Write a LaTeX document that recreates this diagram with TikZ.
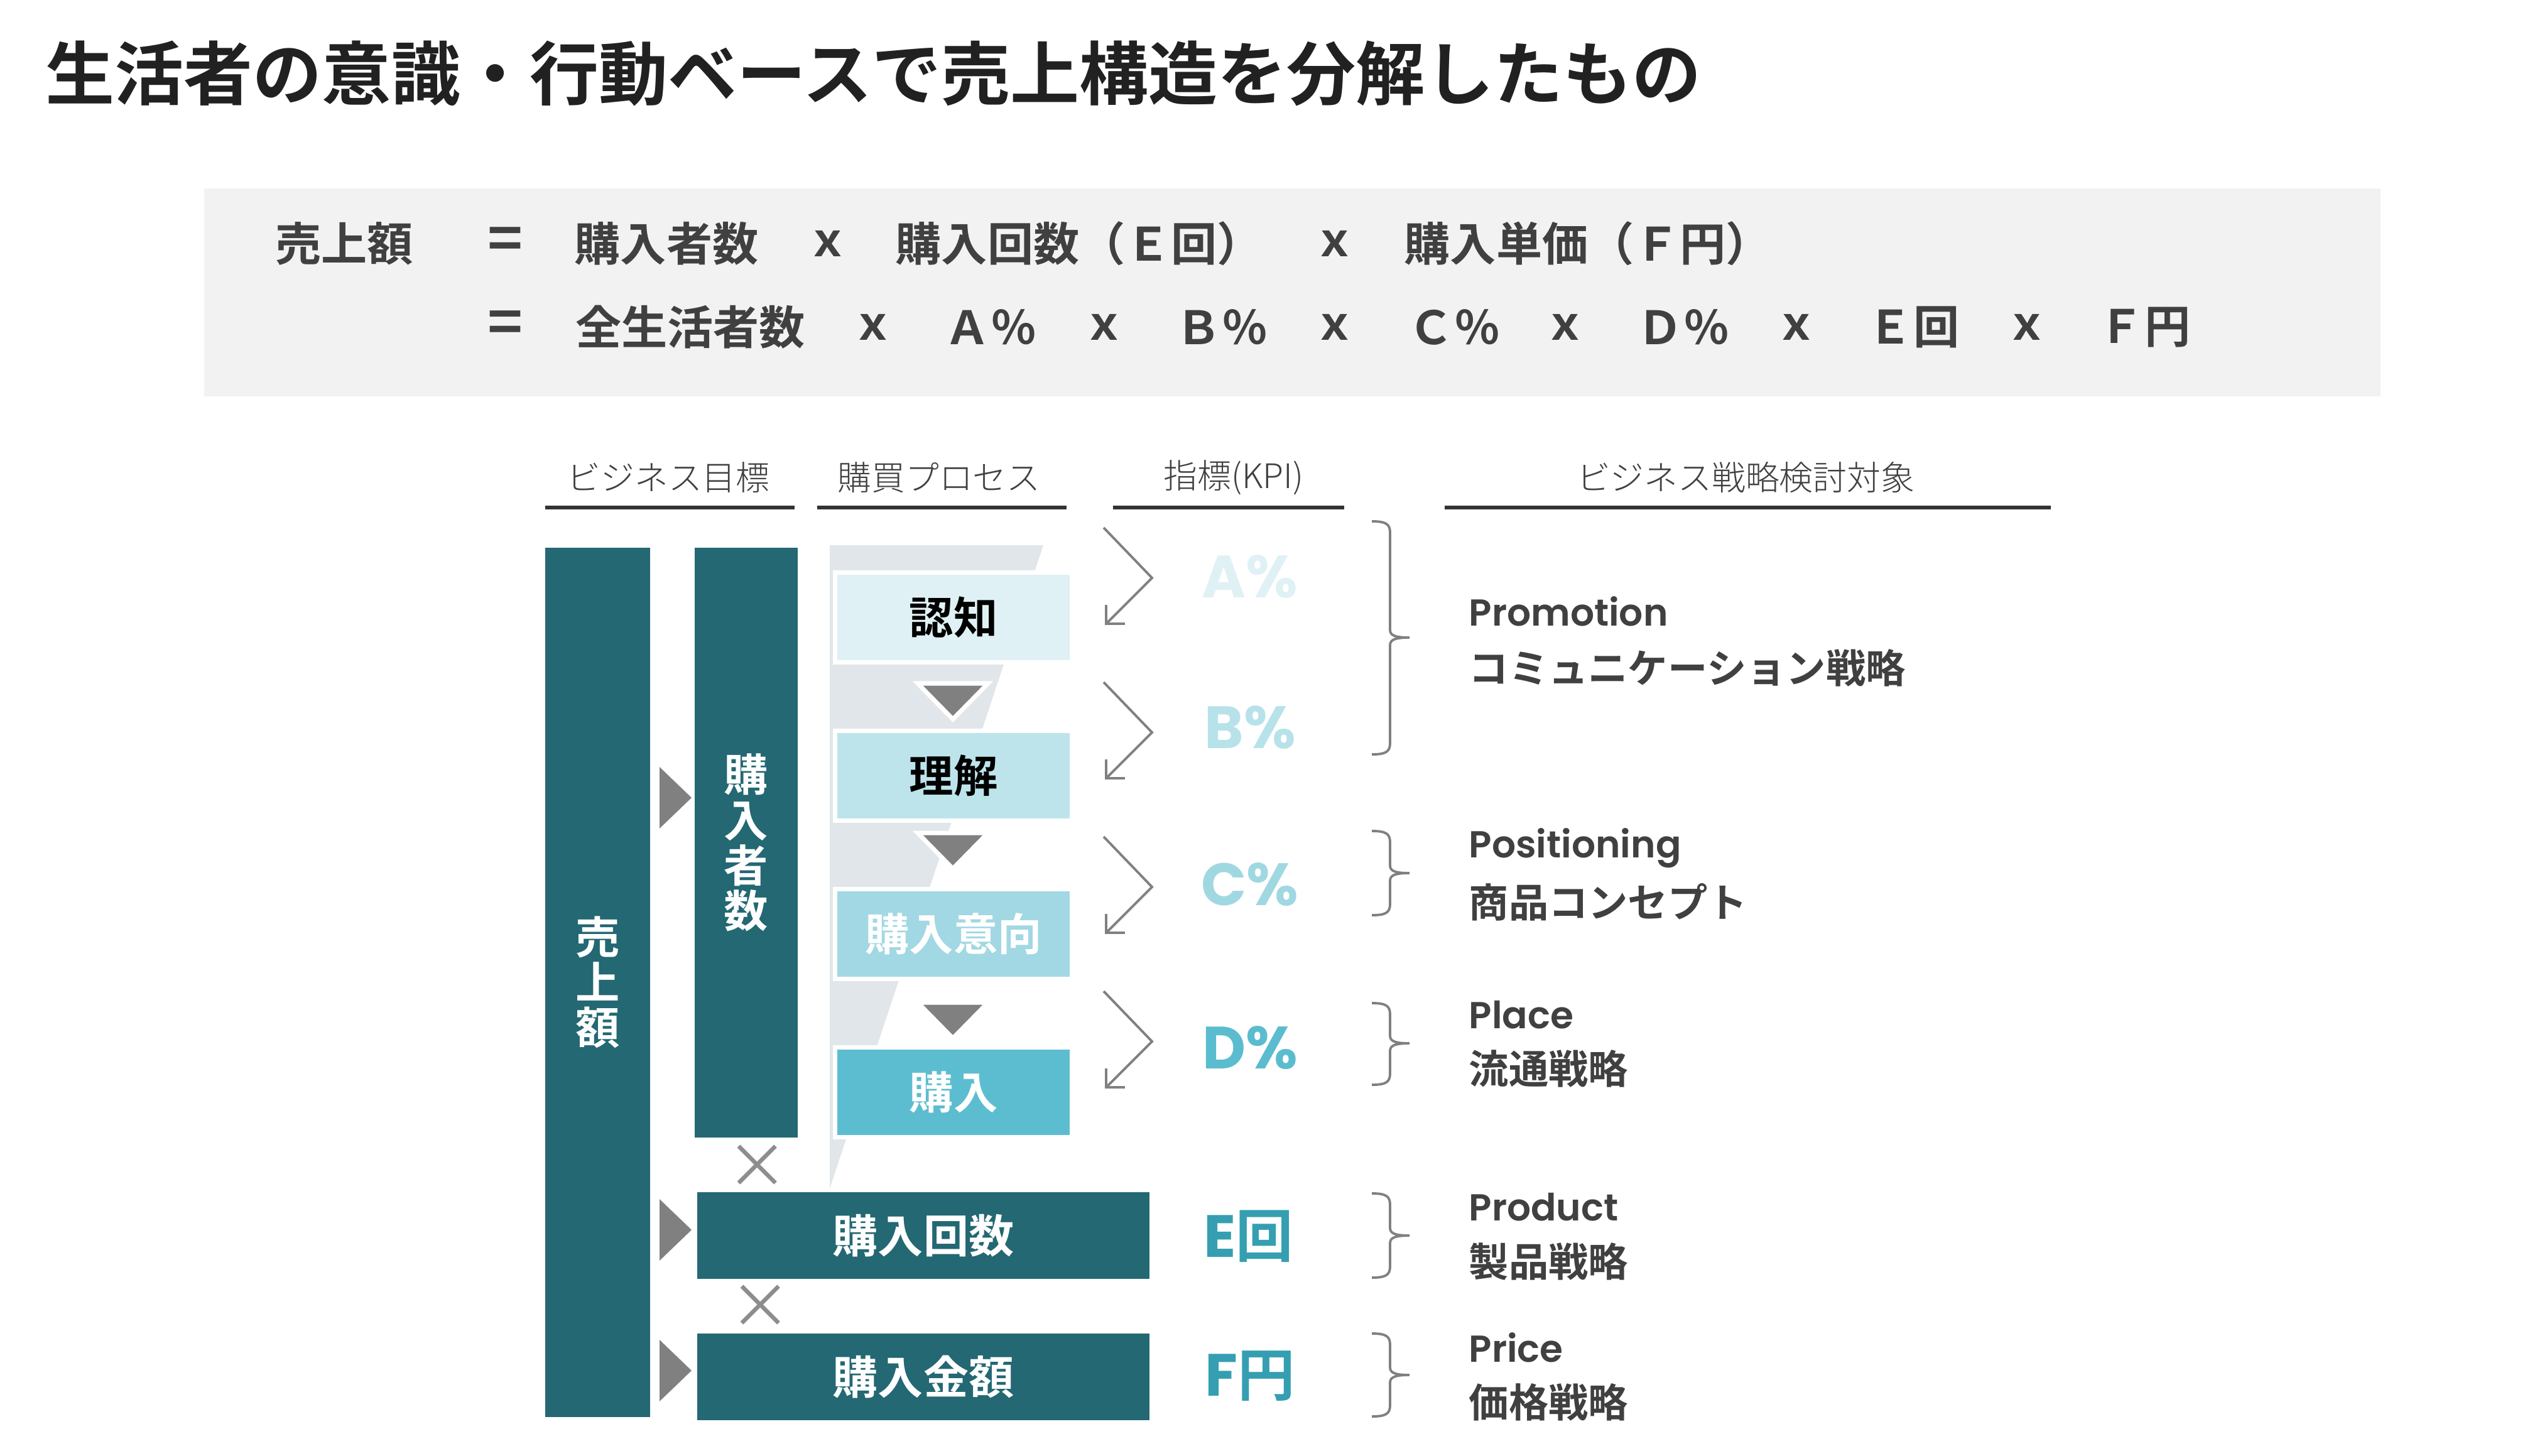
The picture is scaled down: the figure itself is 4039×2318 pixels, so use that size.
\documentclass[tikz,border=0pt]{standalone}
\usepackage{fontspec}
\setmainfont{Noto Sans CJK JP}
\newfontfamily\jpbold{Noto Sans CJK JP Bold}
\newfontfamily\jplight{Noto Sans CJK JP Light}
\newfontfamily\geo{Poppins SemiBold}
\newfontfamily\geobold{Poppins Bold}
\usepackage{tikz}
\usetikzlibrary{arrows.meta}
\definecolor{bardark}{HTML}{236873}
\definecolor{box1}{HTML}{DFF1F5}
\definecolor{box2}{HTML}{BDE4EB}
\definecolor{box3}{HTML}{A1D8E3}
\definecolor{box4}{HTML}{5DBDD0}
\definecolor{kpi1}{HTML}{DFF1F5}
\definecolor{kpi2}{HTML}{B8E2EA}
\definecolor{kpi3}{HTML}{A0D8E2}
\definecolor{kpi4}{HTML}{5BBCCF}
\definecolor{kpi5}{HTML}{359FB1}
\definecolor{funnel}{HTML}{E0E6EA}
\definecolor{formbg}{HTML}{F2F2F2}
\definecolor{darktext}{HTML}{404040}
\definecolor{midgray}{HTML}{808080}
\tikzstyle{formula}=[inner sep=0pt, text=darktext, font=\jpbold\fontsize{20.8pt}{22pt}\selectfont]
\tikzstyle{equals}=[inner sep=0pt, text=darktext, font=\jpbold\fontsize{27pt}{29pt}\selectfont]
\tikzstyle{head}=[inner sep=0pt, text=darktext, font=\jplight\fontsize{15.3pt}{17pt}\selectfont]
\tikzstyle{headline}=[draw=darktext!80!black, line width=1.7pt]
\tikzstyle{bar}=[fill=bardark, inner sep=0pt, text=white, align=center, font=\jpbold\fontsize{20pt}{20.5pt}\selectfont]
\tikzstyle{stepbox}=[draw=white, line width=2pt, minimum width=3.76cm, minimum height=1.42cm, inner sep=0pt, font=\jpbold\fontsize{20pt}{22pt}\selectfont]
\tikzstyle{countbox}=[fill=bardark, minimum width=7.2cm, minimum height=1.37cm, inner sep=0pt, text=white, font=\jpbold\fontsize{20.5pt}{22pt}\selectfont]
\tikzstyle{downtri}=[fill=midgray, draw=white, line width=2pt, line join=miter]
\tikzstyle{kpiarrow}=[draw=midgray, line width=1.1pt, -{Straight Barb[length=6pt, width=12pt]}]
\tikzstyle{kpibrace}=[draw=midgray, line width=1.1pt]
\tikzstyle{kpi}=[inner sep=0pt, font=\geobold\fontsize{27pt}{29pt}\selectfont]
\tikzstyle{stratEn}=[inner sep=0pt, text=darktext, font=\geo\fontsize{17pt}{19pt}\selectfont]
\tikzstyle{stratJp}=[inner sep=0pt, text=darktext, font=\jpbold\fontsize{18pt}{20pt}\selectfont]
\tikzstyle{times}=[inner sep=0pt, text=midgray!90!white, font=\fontsize{28pt}{30pt}\selectfont]

\begin{document}
\begin{tikzpicture}[x=0.01cm, y=-0.01cm]

    \useasboundingbox (0,0) rectangle (4039,2318);

    % title
    \node[anchor=west, inner sep=0pt, text=black!87, font=\jpbold\fontsize{31.3pt}{33pt}\selectfont] (title) at (72,117) {生活者の意識・行動ベースで売上構造を分解したもの};

    % formula
    \fill[formbg] (325,300) rectangle (3790,631);
    \node[formula, anchor=west] (sales1) at (438,388) {売上額};
    \node[equals] (eq1) at (805,388) {=};
    \node[equals] (eq2) at (805,521) {=};
    \foreach \x/\txt [count=\i] in {1061/購入者数, 1318/ｘ, 2125/ｘ}
        \node[formula] (fa\i) at (\x,388) {\txt};
    \node[formula, anchor=west] (times1) at (1425,388) {購入回数（Ｅ回）};
    \node[formula, anchor=west] (price1) at (2235,388) {購入単価（Ｆ円）};

    \foreach \x/\txt [count=\i] in {1099/全生活者数, 1390/ｘ, 1577/Ａ％, 1758/ｘ, 1945/Ｂ％, 2125/ｘ, 2315/Ｃ％, 2492/ｘ, 2680/Ｄ％, 2860/ｘ, 3046/Ｅ回, 3227/ｘ, 3414/Ｆ円}
        \node[formula] (fb\i) at (\x,521) {\txt};

    % headers
    \foreach \x/\name/\txt in {1064/hgoal/ビジネス目標, 1495/hproc/購買プロセス, 1964/hkpi/指標(KPI), 2779/hstrat/ビジネス戦略検討対象}
        \node[head] (\name) at (\x,760) {\txt};
    \foreach \xa/\xb in {868/1265, 1301/1698, 1772/2140, 2300/3265}
        \draw[headline] (\xa,808) -- (\xb,808);

    % business goal
    \node[bar, minimum width=1.67cm, minimum height=13.84cm] (sales) at (951.5,1564) {売\\上\\額};
    \node[bar, minimum width=1.64cm, minimum height=9.39cm] (buyers) at (1188,1341.5) {購\\入\\者\\数};
    \node[countbox] (count) at (1470,1967) {購入回数};
    \node[countbox] (amount) at (1470,2192) {購入金額};

    \foreach \y in {1270,1958,2182}
        \fill[midgray] (1050,\y-49) -- (1101,\y) -- (1050,\y+49) -- cycle;
    \node[times] (x1) at (1206,1857) {×};
    \node[times] (x2) at (1211,2080) {×};

    % purchase process
    \fill[funnel] (1321,868) -- (1661,868) -- (1321,1892) -- cycle;
    \foreach \y/\name/\txt/\col/\tcol in {983/aware/認知/box1/black, 1235/underst/理解/box2/black, 1487/intent/購入意向/box3/white, 1739/purchase/購入/box4/white}
        \node[stepbox, fill=\col, text=\tcol] (\name) at (1518,\y) {\txt};
    \foreach \y in {1117,1355,1625}
        \draw[downtri] (1461,\y-29) -- (1573,\y-29) -- (1517,\y+28) -- cycle;

    % KPI
    \foreach \t in {840,1086,1332,1578}
        \draw[kpiarrow] (1757,\t) -- (1834,\t+80) -- (1759,\t+155);
    \foreach \y/\name/\txt/\col in {918/kpia/A\%/kpi1, 1158/kpib/B\%/kpi2, 1408/kpic/C\%/kpi3, 1668/kpid/D\%/kpi4}
        \node[kpi, text=\col] (\name) at (1990,\y) {\txt};
    \node[kpi, text=kpi5] (kpie) at (1988,1968) {E{\jpbold\fontsize{26pt}{28pt}\selectfont 回}};
    \node[kpi, text=kpi5] (kpif) at (1990,2191) {F{\jpbold\fontsize{26pt}{28pt}\selectfont 円}};

    \foreach \ya/\ym/\yb in {830/1015/1201, 1323/1390/1457, 1597/1661/1727, 1900/1967/2034, 2123/2189/2255}
        \draw[kpibrace] (2184,\ya) .. controls (2206,\ya) and (2213,\ya+4) .. (2213,\ya+18)
            -- (2213,\ym-12) .. controls (2213,\ym-3) and (2222,\ym) .. (2244,\ym)
            .. controls (2222,\ym) and (2213,\ym+3) .. (2213,\ym+12)
            -- (2213,\yb-18) .. controls (2213,\yb-4) and (2206,\yb) .. (2184,\yb);

    % strategy
    \foreach \y/\name/\txt in {996/promo/Promotion, 1365/posi/Positioning, 1637/place/Place, 1943/prod/Product, 2168/price/Price}
        \node[stratEn, anchor=base west] (\name) at (2338,\y) {\txt};
    \foreach \y/\name/\txt in {1063/promojp/コミュニケーション戦略, 1436/posijp/商品コンセプト, 1701/placejp/流通戦略, 2008/prodjp/製品戦略, 2232/pricejp/価格戦略}
        \node[stratJp, anchor=west] (\name) at (2338,\y) {\txt};

\end{tikzpicture}
\end{document}
